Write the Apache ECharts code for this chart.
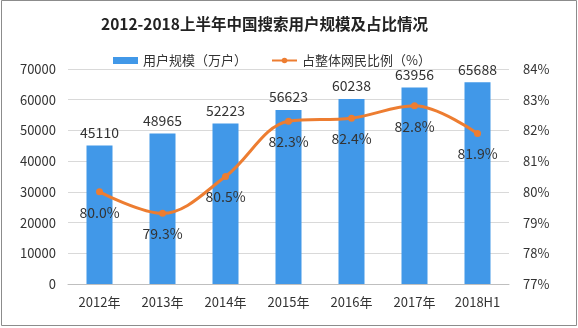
<!DOCTYPE html>
<html>
<head>
<meta charset="utf-8">
<script src="https://cdn.jsdelivr.net/npm/echarts@6/dist/echarts.min.js"></script>
<style>
  html, body { margin: 0; padding: 0; background: #fff; }
  #chart { width: 578px; height: 328px; }
</style>
</head>
<body>
<div id="chart"></div>
<script>
// Search users in China, 2012 – H1 2018
const categories = ['2012年', '2013年', '2014年', '2015年', '2016年', '2017年', '2018H1'];
const users = [45110, 48965, 52223, 56623, 60238, 63956, 65688];     // 万户
const share = [80.0, 79.3, 80.5, 82.3, 82.4, 82.8, 81.9];            // %
const leftTicks = { min: 0, max: 70000, interval: 10000 };
const rightTicks = { min: 77, max: 84, interval: 1 };

const FONT = '"Noto Sans CJK SC", "DejaVu Sans", sans-serif';
const chart = echarts.init(document.getElementById('chart'));

chart.setOption({
  backgroundColor: '#fff',
  animation: false,
  title: {
    text: '2012-2018上半年中国搜索用户规模及占比情况',
    left: 96,
    top: 11,
    textStyle: { fontFamily: FONT, fontSize: 15.5, fontWeight: 'bold', color: '#222' }
  },
  legend: {
    top: 49,
    left: 108,
    itemGap: 24,
    itemWidth: 25,
    itemHeight: 7,
    textStyle: { fontFamily: FONT, fontSize: 13, color: '#333' },
    data: [
      { name: '用户规模（万户）', icon: 'rect' },
      { name: '占整体网民比例（%）' }
    ]
  },
  grid: { left: 68, right: 69, top: 69, bottom: 44 },
  xAxis: {
    type: 'category',
    data: categories,
    axisTick: { show: false },
    axisLine: { lineStyle: { color: '#bfbfbf' } },
    axisLabel: { fontFamily: FONT, fontSize: 13, color: '#333', margin: 12 }
  },
  yAxis: [
    {
      type: 'value',
      min: leftTicks.min, max: leftTicks.max, interval: leftTicks.interval,
      axisLine: { show: false },
      axisTick: { show: false },
      splitLine: { lineStyle: { color: '#d9d9d9' } },
      axisLabel: { fontFamily: FONT, fontSize: 13, color: '#333', margin: 12, formatter: v => String(v) }
    },
    {
      type: 'value',
      min: rightTicks.min, max: rightTicks.max, interval: rightTicks.interval,
      axisLine: { show: false },
      axisTick: { show: false },
      splitLine: { show: false },
      axisLabel: { fontFamily: FONT, fontSize: 13, color: '#333', margin: 14, formatter: '{value}%' }
    }
  ],
  series: [
    {
      name: '用户规模（万户）',
      type: 'bar',
      data: users,
      barWidth: 26,
      itemStyle: { color: '#4198E8' },
      label: {
        show: true, position: 'top', distance: 6,
        fontFamily: FONT, fontSize: 14, color: '#333'
      }
    },
    {
      name: '占整体网民比例（%）',
      type: 'line',
      yAxisIndex: 1,
      data: share,
      smooth: 0.35,
      symbol: 'circle',
      symbolSize: 7,
      lineStyle: { color: '#ED7D31', width: 3 },
      itemStyle: { color: '#ED7D31' },
      label: {
        show: true, position: 'bottom', distance: 10,
        fontFamily: FONT, fontSize: 14, color: '#333',
        formatter: p => p.value.toFixed(1) + '%'
      }
    }
  ],
  graphic: [
    {
      type: 'rect',
      shape: { x: 1.5, y: 0.5, width: 575, height: 325 },
      style: { fill: null, stroke: '#8c8c8c', lineWidth: 1 },
      silent: true
    }
  ]
});
</script>
</body>
</html>
